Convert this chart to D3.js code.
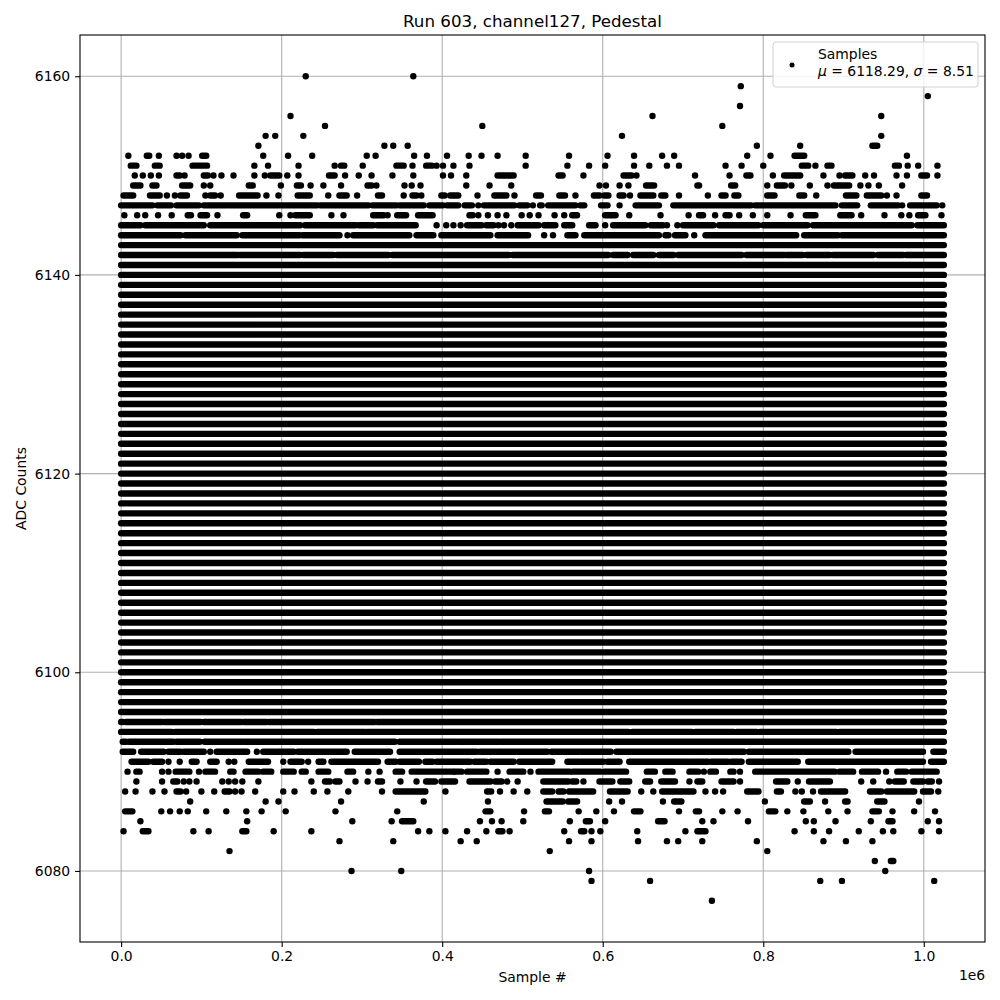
<!DOCTYPE html>
<html><head><meta charset="utf-8">
<script src="https://cdn.jsdelivr.net/npm/d3@7"></script>
<style>body{margin:0;background:#fff} text{font-family:"DejaVu Sans",sans-serif;fill:#000}</style>
</head><body><svg id="c" width="1000" height="1000"></svg>
<script>
// ---------- data ----------
const chartTitle = "Run 603, channel127, Pedestal";
const xLabel = "Sample #";
const yLabel = "ADC Counts";
const xOffsetLabel = "1e6";
const xTicks = [0, 200000, 400000, 600000, 800000, 1000000];
const xTickLabels = ["0.0", "0.2", "0.4", "0.6", "0.8", "1.0"];
const yTicks = [6080, 6100, 6120, 6140, 6160];
const legendName = "Samples";
const meanValue = 6118.29;
const sigmaValue = 8.51;
const lastSample = 1025; // thousands of samples

// ADC levels hit continuously over the whole run
const fullLevels = [6096, 6097, 6098, 6099, 6100, 6101, 6102, 6103, 6104, 6105, 6106, 6107,
  6108, 6109, 6110, 6111, 6112, 6113, 6114, 6115, 6116, 6117, 6118, 6119, 6120, 6121, 6122,
  6123, 6124, 6125, 6126, 6127, 6128, 6129, 6130, 6131, 6132, 6133, 6134, 6135, 6136, 6137,
  6138, 6139, 6140, 6141, 6143];

// Partially populated levels: sample index (thousands) of single samples, or [first,last] runs
const adc6160 = [230, 364];
const adc6159 = [772];
const adc6158 = [1005];
const adc6157 = [771];
const adc6156 = [211, 662, 947];
const adc6155 = [254, 450, 749];
const adc6154 = [180, 192, 227, 624, 947];
const adc6153 = [171, 328, 339, 357, 792, 846, [936, 942]];
const adc6152 = [9, [32, 35], 47, 69, 76, 84, [101, 106], 177, 208, 238, 306, 317, 365, 381, 406, 433, 449, 469, 504, 558, 606, 639, 674, 689, 780, 809, [839, 851], 979];
const adc6151 = [[12, 19], [42, 48], [89, 107], 166, 183, 221, 266, [274, 278], 301, [343, 352], 363, [380, 387], 393, 401, 414, 434, 504, 556, 583, 603, 639, 658, 680, 695, 753, 773, 800, [848, 856], 865, [880, 885], [964, 969], 980, 993, 1017];
const adc6150 = [17, 27, 37, 47, [69, 73], 79, [103, 108], 115, 125, 140, 166, 179, [186, 197], 207, 221, [259, 266], 279, 296, 312, 338, 364, 401, 411, 430, [469, 489], [545, 550], 576, [626, 636], 642, 715, 758, [779, 784], 812, [826, 846], 875, 895, [902, 911], 927, 938, 966, 979, [997, 1004], 1017];
const adc6149 = [[15, 24], [39, 44], [76, 86], 103, 111, [159, 164], 199, [219, 224], 236, 252, 274, [307, 312], 318, 353, 362, 373, 430, 459, 486, 596, 604, 621, 632, [654, 664], [718, 720], [760, 765], 805, [817, 827], 835, 858, 880, [888, 907], 921, 931, 944, 973];
const adc6148 = [[3, 15], [36, 48], 57, 67, [74, 82], 105, [111, 117], 124, [147, 170], 181, 196, [220, 235], 258, [272, 281], 294, [320, 325], 352, [363, 368], 374, [399, 403], [410, 420], 444, [465, 480], 490, [517, 523], [546, 553], 566, [589, 596], [602, 607], [621, 626], 634, [647, 663], [673, 678], 695, 731, [748, 753], [764, 769], [805, 814], [845, 851], 866, [903, 916], [929, 947], 954, 966, [997, 1004]];
const adc6147 = [[0, 39], [45, 62], [69, 97], [103, 132], [135, 198], [201, 244], [248, 308], [313, 343], [347, 377], [384, 401], [406, 420], [428, 437], 445, [452, 490], [496, 506], 513, [522, 524], [532, 566], [572, 577], [598, 606], 621, [641, 670], [688, 760], [763, 785], [790, 890], [898, 917], [934, 968], 973, [983, 1016], 1023];
const adc6146 = [4, 20, 30, 46, 63, [83, 87], [99, 107], 120, [152, 157], 197, 211, [217, 235], 262, 277, [314, 327], 332, [344, 355], [370, 388], [434, 438], 445, 457, 469, 480, 499, 509, 520, 540, 552, [562, 568], [603, 616], 633, 672, 707, [720, 725], 740, [753, 758], 770, 787, 805, 834, [853, 865], [896, 910], 922, 951, 972, 982, [993, 1002], 1022];
const adc6145 = [[0, 24], [30, 103], [111, 223], [229, 292], [296, 314], [319, 367], 393, 405, 414, 423, [431, 449], [455, 464], 470, 477, 486, [494, 520], [527, 541], [552, 562], [583, 591], 603, [613, 653], [660, 675], 680, 693, [700, 738], [745, 794], [800, 855], [862, 985], [992, 1025]];
const adc6144 = [[0, 74], [80, 144], [151, 222], [226, 272], 282, [289, 359], [368, 389], [399, 460], [469, 507], 527, 538, [556, 566], [577, 670], [678, 682], [690, 703], 714, [728, 841], [851, 893], [898, 1025]];
const adc6142 = [[0, 145], [148, 223], [227, 264], [269, 333], [338, 483], [488, 607], [613, 631], [638, 663], [670, 688], [694, 773], [779, 826], [829, 849], [854, 883], [887, 937], [943, 974], [978, 1025]];
const adc6095 = [[0, 2], [6, 51], [54, 99], [103, 150], [153, 181], [184, 316], [319, 1025]];
const adc6094 = [[0, 63], [67, 240], [244, 304], [306, 632], [637, 711], [715, 763], [767, 792], [796, 891], [895, 1025]];
const adc6093 = [[2, 6], [10, 65], [69, 98], [104, 150], [153, 341], [347, 418], [421, 471], [474, 608], [611, 1025]];
const adc6092 = [[2, 15], [25, 53], [59, 74], [78, 103], 111, [119, 157], 169, [177, 190], [193, 215], [220, 281], [291, 335], [347, 389], [392, 443], [447, 531], [536, 570], [573, 610], [617, 776], [782, 848], [851, 906], [915, 999], [1012, 1025]];
const adc6091 = [[13, 34], [40, 51], 59, 73, [88, 94], [111, 119], 134, 141, [159, 183], 202, [211, 225], 233, [246, 252], [262, 320], [332, 342], [347, 371], [379, 388], [393, 435], [440, 455], [460, 489], [496, 537], [556, 570], [573, 601], [606, 621], [633, 707], [710, 731], [735, 756], [760, 773], [782, 843], [856, 999], [1009, 1025]];
const adc6090 = [8, [19, 23], 51, 59, [68, 85], 97, [105, 117], [136, 140], [155, 171], [177, 187], [202, 215], [225, 230], [246, 258], [282, 289], 308, 322, [342, 350], [362, 414], [416, 424], [431, 455], 469, [484, 501], 510, [520, 559], [563, 597], [602, 629], [655, 665], [678, 687], [708, 719], 726, [734, 741], [759, 763], 771, [790, 889], [895, 912], [923, 943], 953, [967, 978], [985, 1016]];
const adc6089 = [19, 51, [65, 70], 78, 85, 94, 126, 134, 142, 151, 171, 237, [254, 260], [267, 272], 292, 307, [320, 325], 348, 368, [380, 388], 391, [399, 416], [434, 460], [466, 474], 481, 494, [526, 557], [562, 567], 576, [596, 612], [622, 633], [653, 659], [673, 690], 708, [718, 724], [748, 763], 771, [816, 830], 843, [857, 883], 922, 937, 957, [964, 975], [987, 999], [1005, 1010], 1019];
const adc6088 = [5, 18, 39, 54, [69, 74], 81, 100, 116, [129, 135], 142, 150, 167, 202, 216, 240, 257, 283, 325, [342, 379], 404, [456, 461], 472, 489, 506, [526, 537], [545, 551], [558, 588], [609, 631], 648, 663, [674, 713], 728, 740, 750, [780, 794], [817, 822], 840, 848, 862, [872, 902], [933, 947], [954, 988], [999, 1009], 1018];
const adc6087 = [86, 180, 196, 274, 377, 457, [530, 550], [557, 568], 608, 624, 675, [689, 698], 802, [851, 858], 877, [902, 905], [942, 951], 994];
const adc6086 = [[5, 14], 50, 61, 73, 83, 106, 131, 156, 175, 205, 267, 344, [454, 460], 502, [528, 533], 570, 592, 614, [639, 647], 695, [716, 720], 749, 768, [807, 815], 830, 850, 881, 905, [936, 944], 961, 988, 1014];
const adc6085 = [24, 157, 288, 337, [350, 364], 447, 462, 474, 501, 559, [579, 584], 603, [669, 677], 724, 738, 781, 853, 863, 890, 934, [956, 961], 1005, 1019];
const adc6084 = [3, [27, 34], 90, 109, [151, 156], 190, 237, 370, 384, 404, 431, 455, [470, 475], 484, 552, [573, 577], 586, 597, 643, 703, [718, 728], 839, 863, 882, 919, 949, 962, 997, 1019];
const adc6083 = [272, 339, 423, 443, 558, 586, 644, 680, 694, 724, 792, 875, 903, 936];
const adc6082 = [135, 534, 805];
const adc6081 = [939, [959, 962]];
const adc6080 = [287, 349, 583, 952];
const adc6079 = [586, 659, 871, 898, 1013];
const adc6077 = [736];

const partialLevels = [
  [6160, adc6160], [6159, adc6159], [6158, adc6158], [6157, adc6157], [6156, adc6156],
  [6155, adc6155], [6154, adc6154], [6153, adc6153], [6152, adc6152], [6151, adc6151],
  [6150, adc6150], [6149, adc6149], [6148, adc6148], [6147, adc6147], [6146, adc6146],
  [6145, adc6145], [6144, adc6144], [6142, adc6142],
  [6095, adc6095], [6094, adc6094], [6093, adc6093], [6092, adc6092], [6091, adc6091],
  [6090, adc6090], [6089, adc6089], [6088, adc6088], [6087, adc6087], [6086, adc6086],
  [6085, adc6085], [6084, adc6084], [6083, adc6083], [6082, adc6082], [6081, adc6081],
  [6080, adc6080], [6079, adc6079], [6077, adc6077]
];

// ---------- layout ----------
const svg = d3.select("#c");
const L = 80, R = 985, T = 35, B = 942;
const x = d3.scaleLinear().domain([-51250, 1076250]).range([L, R]);
const y = d3.scaleLinear().domain([6072.85, 6164.15]).range([B, T]);
const r = 3.2;
const fs = 13.9;

// grid
const grid = svg.append("g").attr("stroke", "#b0b0b0").attr("stroke-width", 1.1);
grid.selectAll(".gx").data(xTicks).join("line")
  .attr("x1", d => x(d)).attr("x2", d => x(d)).attr("y1", T).attr("y2", B);
grid.selectAll(".gy").data(yTicks).join("line")
  .attr("y1", d => y(d)).attr("y2", d => y(d)).attr("x1", L).attr("x2", R);

// clip
svg.append("clipPath").attr("id", "clip").append("rect")
  .attr("x", L).attr("y", T).attr("width", R - L).attr("height", B - T);

// marks
const runs = [];
fullLevels.forEach(lv => runs.push({ lv, a: 0, b: lastSample }));
partialLevels.forEach(([lv, arr]) => arr.forEach(e => {
  if (Array.isArray(e)) runs.push({ lv, a: e[0], b: e[1] });
  else runs.push({ lv, a: e, b: e });
}));
svg.append("g").attr("clip-path", "url(#clip)").attr("fill", "#000")
  .selectAll("rect").data(runs).join("rect")
  .attr("x", d => x(d.a * 1000) - r)
  .attr("width", d => x(d.b * 1000) - x(d.a * 1000) + 2 * r)
  .attr("y", d => y(d.lv) - r)
  .attr("height", 2 * r)
  .attr("rx", r).attr("ry", r);

// frame
svg.append("rect").attr("x", L).attr("y", T).attr("width", R - L).attr("height", B - T)
  .attr("fill", "none").attr("stroke", "#000").attr("stroke-width", 1.1);

// axes
const xAxis = svg.append("g").attr("transform", `translate(0,${B})`)
  .call(d3.axisBottom(x).tickValues(xTicks).tickFormat((d, i) => xTickLabels[i]).tickSize(4.9).tickPadding(4.2));
const yAxis = svg.append("g").attr("transform", `translate(${L},0)`)
  .call(d3.axisLeft(y).tickValues(yTicks).tickFormat(d3.format("d")).tickSize(4.9).tickPadding(4.9));
[xAxis, yAxis].forEach(g => {
  g.select(".domain").remove();
  g.selectAll("line").attr("stroke", "#000").attr("stroke-width", 1.1);
  g.selectAll("text").attr("font-family", "DejaVu Sans").attr("font-size", fs).attr("fill", "#000");
});

svg.append("text").attr("x", R - 13).attr("y", 980).attr("text-anchor", "middle")
  .attr("font-size", fs).text(xOffsetLabel);

// labels
svg.append("text").attr("x", (L + R) / 2).attr("y", 27).attr("text-anchor", "middle")
  .attr("font-size", 16.7).text(chartTitle);
svg.append("text").attr("x", (L + R) / 2).attr("y", 982).attr("text-anchor", "middle")
  .attr("font-size", fs).text(xLabel);
svg.append("text").attr("transform", `translate(26,${(T + B) / 2}) rotate(-90)`)
  .attr("text-anchor", "middle").attr("font-size", fs).text(yLabel);

// legend
const lg = svg.append("g");
lg.append("rect").attr("x", 773).attr("y", 42).attr("width", 205).attr("height", 45)
  .attr("rx", 3).attr("fill", "#fff").attr("fill-opacity", 0.8)
  .attr("stroke", "#d0d0d0").attr("stroke-width", 1);
lg.append("circle").attr("cx", 792).attr("cy", 65).attr("r", 2.5).attr("fill", "#000");
lg.append("text").attr("x", 818).attr("y", 59).attr("font-size", fs).text(legendName);
const t2 = lg.append("text").attr("x", 818).attr("y", 76).attr("font-size", fs);
t2.append("tspan").attr("font-style", "italic").text("μ");
t2.append("tspan").text(` = ${meanValue.toFixed(2)}, `);
t2.append("tspan").attr("font-style", "italic").text("σ");
t2.append("tspan").text(` = ${sigmaValue.toFixed(2)}`);
</script></body></html>
